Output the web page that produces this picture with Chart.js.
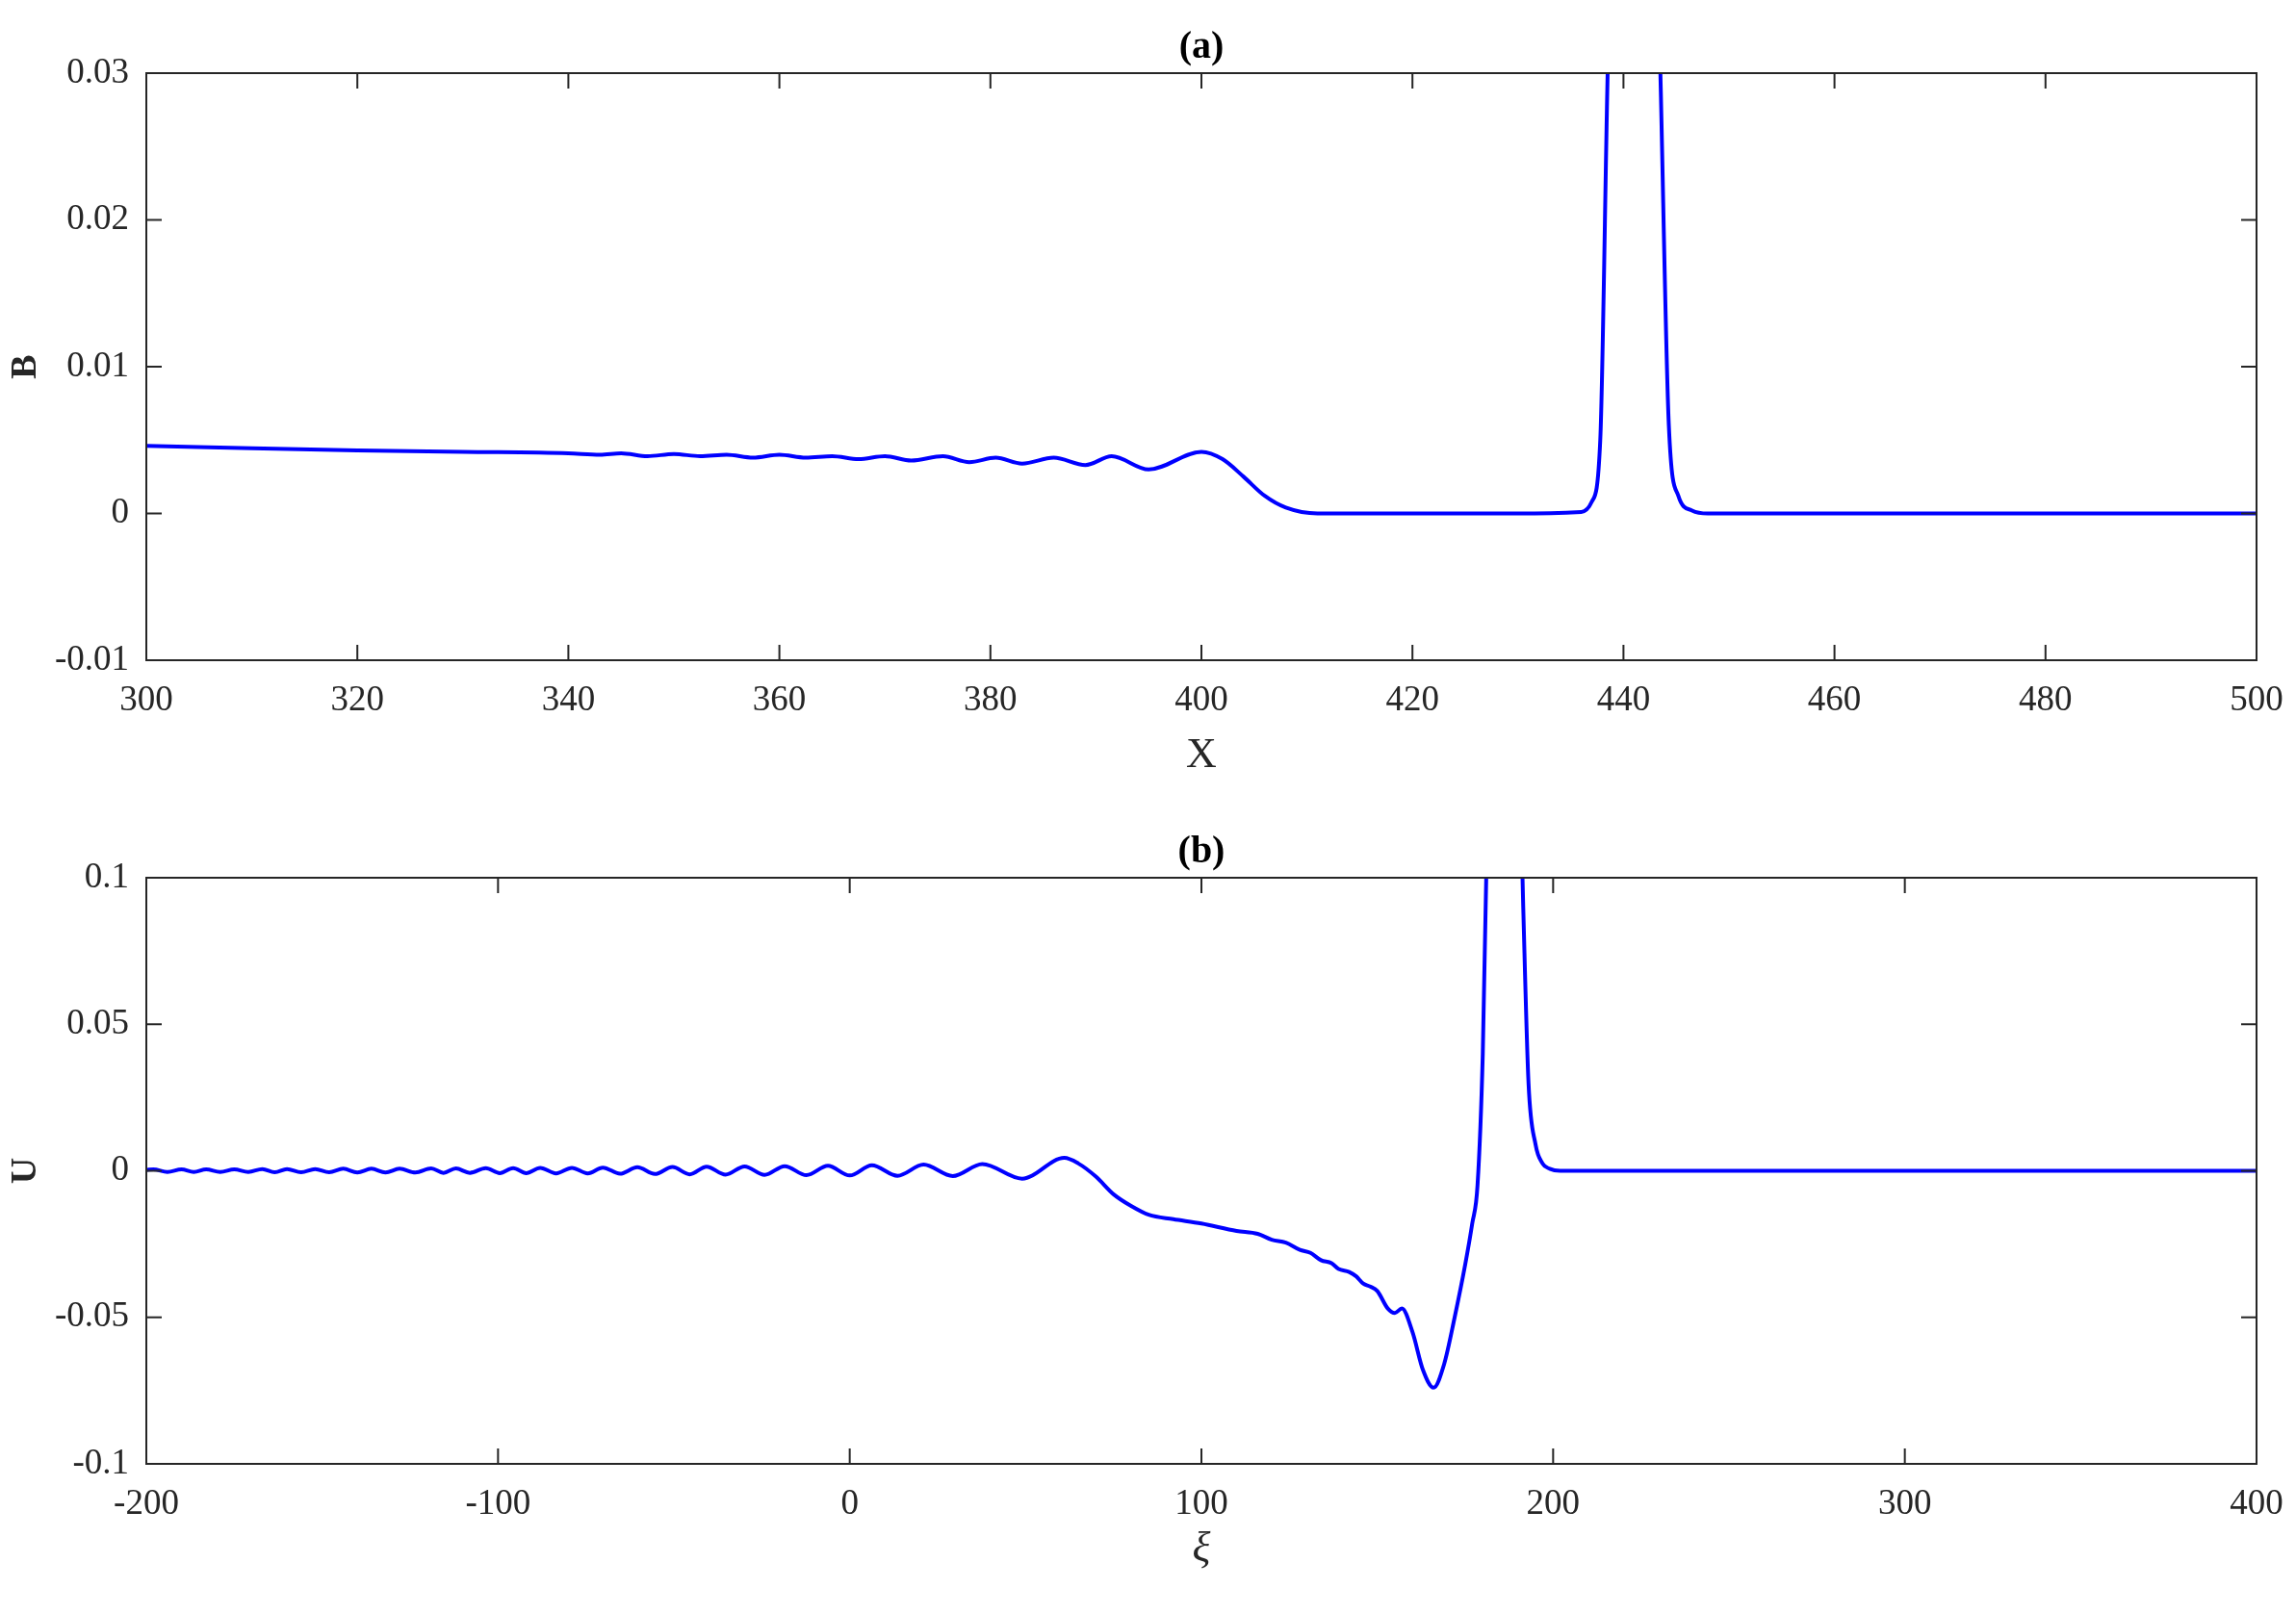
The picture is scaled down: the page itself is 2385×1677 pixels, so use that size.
<!DOCTYPE html>
<html>
<head>
<meta charset="utf-8">
<script src="https://cdn.jsdelivr.net/npm/chart.js@4"></script>
<style>
body { margin: 0; background: #fff; }
canvas { position: absolute; left: 0; }
</style>
</head>
<body>
<canvas id="chartA" width="2385" height="838" style="top:0"></canvas>
<canvas id="chartB" width="2385" height="839" style="top:838px"></canvas>
<script>
// panel (a): B against X
var xA = [300, 310, 320, 330, 340, 343, 345, 347.5, 350, 352.5, 355, 357.5, 360, 362.5, 365, 367.5, 370, 372.5, 375.5, 378, 380.5, 383, 386, 389, 391.5, 395, 400, 402, 404, 406, 408, 411, 420, 430, 436, 437, 437.8, 438.5, 439.5, 441, 442.5, 443.5, 444.3, 445.2, 446.5, 448, 460, 480, 500];
var bA = [0.0046, 0.00445, 0.0043, 0.0042, 0.0041, 0.0040, 0.0041, 0.0039, 0.00405, 0.0039, 0.0040, 0.0038, 0.0040, 0.0038, 0.0039, 0.0037, 0.0039, 0.0036, 0.0039, 0.0035, 0.0038, 0.0034, 0.0038, 0.0033, 0.0039, 0.0030, 0.0042, 0.0037, 0.0025, 0.0012, 0.0004, 0.0000, 0.0000, 0.0000, 0.0001, 0.0008, 0.005, 0.03, 0.06, 0.07, 0.06, 0.03, 0.006, 0.0012, 0.0002, 0.0000, 0.0000, 0.0000, 0.0000];

// panel (b): U against xi
var xB = [-200, -198, -194, -190, -186.5, -183, -179, -175, -171, -167, -163.5, -160, -156, -152, -148, -144, -140, -136, -132, -128, -123.5, -119, -115.5, -112, -108, -103.5, -99.5, -95.7, -92, -88, -83.5, -79, -74.5, -70.2, -65.3, -60.4, -55.4, -50.4, -45.5, -40.7, -35.3, -29.9, -24.2, -18.5, -12.3, -6.2, 0, 6.3, 13.6, 21, 29.3, 37.7, 49, 61, 65, 70, 75, 80, 85, 92, 100, 110, 116, 120, 124, 128, 131, 134, 137, 139, 142, 144, 146, 148, 150, 153, 155, 157, 160, 163, 166, 169, 172, 175, 177, 178.5, 180, 182, 186, 190, 191.5, 193, 195, 197, 199, 202, 250, 300, 400];
var uB = [0.0003, 0.0005, -0.0004, 0.0005, -0.0004, 0.0005, -0.0004, 0.0005, -0.0004, 0.0006, -0.0005, 0.0006, -0.0005, 0.0006, -0.0005, 0.0007, -0.0006, 0.0007, -0.0006, 0.0007, -0.0006, 0.0008, -0.0007, 0.0008, -0.0007, 0.0009, -0.0008, 0.0009, -0.0008, 0.0010, -0.0009, 0.0010, -0.0009, 0.0011, -0.0010, 0.0012, -0.0011, 0.0013, -0.0012, 0.0014, -0.0013, 0.0015, -0.0014, 0.0016, -0.0015, 0.0017, -0.0016, 0.0019, -0.0017, 0.0021, -0.0018, 0.0023, -0.0027, 0.0044, 0.0025, -0.002, -0.008, -0.012, -0.015, -0.0165, -0.018, -0.0205, -0.0215, -0.0235, -0.0245, -0.027, -0.028, -0.0305, -0.0315, -0.0335, -0.0345, -0.036, -0.0385, -0.0395, -0.041, -0.047, -0.0485, -0.047, -0.055, -0.068, -0.074, -0.066, -0.050, -0.032, -0.018, -0.005, 0.04, 0.16, 0.22, 0.16, 0.09, 0.03, 0.009, 0.0025, 0.0007, 0.0000, 0.0000, 0.0000, 0.0000];

var serif = '"Liberation Serif", "DejaVu Serif", serif';

function toPoints(xs, ys) {
    var pts = [];
    for (var i = 0; i < xs.length; i++) pts.push({ x: xs[i], y: ys[i] });
    return pts;
}

// box frame, inward ticks on all four sides and the panel title
var frame = {
    id: 'frame',
    afterDraw: function (chart, args, opts) {
        var ctx = chart.ctx, a = chart.chartArea;
        var sx = chart.scales.x, sy = chart.scales.y;
        ctx.save();
        ctx.strokeStyle = '#262626';
        ctx.lineWidth = 2;
        ctx.strokeRect(a.left, a.top, a.right - a.left, a.bottom - a.top);
        var len = 16;
        sx.ticks.forEach(function (t) {
            var p = sx.getPixelForValue(t.value);
            ctx.beginPath();
            ctx.moveTo(p, a.bottom); ctx.lineTo(p, a.bottom - len);
            ctx.moveTo(p, a.top); ctx.lineTo(p, a.top + len);
            ctx.stroke();
        });
        sy.ticks.forEach(function (t) {
            var p = sy.getPixelForValue(t.value);
            ctx.beginPath();
            ctx.moveTo(a.left, p); ctx.lineTo(a.left + len, p);
            ctx.moveTo(a.right, p); ctx.lineTo(a.right - len, p);
            ctx.stroke();
        });
        ctx.fillStyle = '#000';
        ctx.font = 'bold 40px ' + serif;
        ctx.textAlign = 'center';
        ctx.textBaseline = 'bottom';
        ctx.fillText(opts.text, (a.left + a.right) / 2, a.top - 6);
        ctx.restore();
    }
};

function makeChart(id, xs, ys, o) {
    return new Chart(document.getElementById(id), {
        type: 'line',
        data: {
            datasets: [{
                data: toPoints(xs, ys),
                borderColor: '#0000ff',
                borderWidth: 4,
                pointRadius: 0,
                cubicInterpolationMode: 'monotone',
                fill: false
            }]
        },
        options: {
            responsive: false,
            animation: false,
            layout: { padding: { top: o.top, right: 41, left: 0, bottom: o.bottom } },
            plugins: { legend: { display: false }, tooltip: { enabled: false }, frame: { text: o.title } },
            scales: {
                x: {
                    type: 'linear', min: o.xmin, max: o.xmax,
                    afterFit: function (s) { s.height = o.xh; },
                    afterBuildTicks: function (s) {
                        s.ticks = o.xticks.map(function (v) { return { value: v }; });
                    },
                    grid: { display: false },
                    border: { display: false },
                    ticks: { color: '#262626', font: { family: serif, size: 37 }, padding: 12, maxRotation: 0 },
                    title: { display: true, text: o.xlabel, color: '#262626', padding: { top: 0 },
                             font: { family: serif, size: 44, style: o.xstyle } }
                },
                y: {
                    type: 'linear', min: o.ymin, max: o.ymax,
                    afterFit: function (s) { s.width = 152; },
                    afterBuildTicks: function (s) {
                        s.ticks = o.yticks.map(function (v) { return { value: v }; });
                    },
                    grid: { display: false },
                    border: { display: false },
                    ticks: { color: '#262626', font: { family: serif, size: 37 }, padding: 10,
                             callback: function (v) { return String(+v.toFixed(3)); } },
                    title: { display: true, text: o.ylabel, color: '#262626',
                             font: { family: serif, size: 38, weight: 'bold' } }
                }
            }
        },
        plugins: [frame]
    });
}

makeChart('chartA', xA, bA, {
    title: '(a)', top: 76, bottom: 22, xh: 130, xmin: 300, xmax: 500, ymin: -0.01, ymax: 0.03,
    xticks: [300, 320, 340, 360, 380, 400, 420, 440, 460, 480, 500],
    yticks: [-0.01, 0, 0.01, 0.02, 0.03],
    xlabel: 'X', xstyle: 'normal', ylabel: 'B'
});
makeChart('chartB', xB, uB, {
    title: '(b)', top: 74, bottom: 36, xh: 120, xmin: -200, xmax: 400, ymin: -0.1, ymax: 0.1,
    xticks: [-200, -100, 0, 100, 200, 300, 400],
    yticks: [-0.1, -0.05, 0, 0.05, 0.1],
    xlabel: 'ξ', xstyle: 'italic', ylabel: 'U'
});
</script>
</body>
</html>
